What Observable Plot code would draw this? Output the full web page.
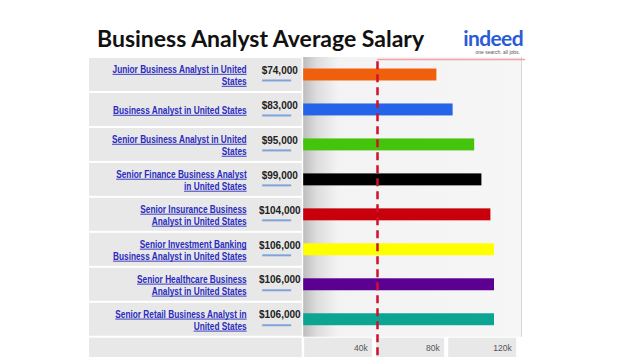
<!DOCTYPE html>
<html>
<head>
<meta charset="utf-8">
<script src="https://cdn.jsdelivr.net/npm/d3@7"></script>
<script src="https://cdn.jsdelivr.net/npm/@observablehq/plot@0.6"></script>
<style>
  html, body { margin: 0; padding: 0; background: #ffffff; }
  #wrap { position: relative; width: 640px; height: 360px; overflow: hidden; background: #ffffff; }
  #title { position: absolute; left: 97px; top: 24px; font-family: Lato, "Open Sans", sans-serif; font-weight: 700; font-size: 23px; color: #111; letter-spacing: 0px; white-space: nowrap; }
  #logo { position: absolute; left: 459px; top: 28px; width: 64px; text-align: right; }
  #logo .word { font-family: Lato, "Open Sans", sans-serif; font-weight: 700; font-size: 21px; color: #2a5bd7; letter-spacing: -0.6px; line-height: 20px; }
  #logo .tag { font-family: "Liberation Sans", Arial, sans-serif; font-size: 5px; color: #555; line-height: 6px; margin-top: 1px; margin-right: 3px; }
  #chart { position: absolute; left: 0; top: 55px; }
</style>
</head>
<body>
<div id="wrap">
  <div id="title">Business Analyst Average Salary</div>
  <div id="logo"><div class="word">indeed</div><div class="tag">one search. all jobs.</div></div>
  <div id="chart"></div>
</div>
<script>
// ---- data ----
const jobTitles = [
  "Junior Business Analyst in United\nStates",
  "Business Analyst in United States",
  "Senior Business Analyst in United\nStates",
  "Senior Finance Business Analyst\nin United States",
  "Senior Insurance Business\nAnalyst in United States",
  "Senior Investment Banking\nBusiness Analyst in United States",
  "Senior Healthcare Business\nAnalyst in United States",
  "Senior Retail Business Analyst in\nUnited States"
];
const salaries = [74000, 83000, 95000, 99000, 104000, 106000, 106000, 106000];
const salaryLabels = ["$74,000", "$83,000", "$95,000", "$99,000", "$104,000", "$106,000", "$106,000", "$106,000"];
const barColors = ["#f0600c", "#2563e8", "#45c40c", "#000000", "#c8000c", "#ffff00", "#5c0092", "#0ca594"];
const axisTicks = [40000, 80000, 120000];
const axisTickLabels = ["40k", "80k", "120k"];
const referenceSalary = 41000;

// ---- layout helpers (scale domain) ----
const xMin = -119000, xMax = 121000;
const nRows = jobTitles.length;
const axisRowSpan = 0.58;
const labelX = -31700, salaryX = -13300, salaryLineX1 = -22800, salaryLineX2 = -6700;
const linkColor = "#2b2bbf";

const rows = jobTitles.map((t, i) => ({title: t, salary: salaries[i], label: salaryLabels[i], color: barColors[i], row: i}));
const cells = axisTicks.map((t, i) => ({x1: i ? axisTicks[i - 1] : 0, x2: t, label: axisTickLabels[i]}));

const defs = () => {
  const g = d3.create("svg:defs");
  const lg = g.append("linearGradient").attr("id", "bg-grad").attr("x1", "0").attr("x2", "1").attr("y1", "0").attr("y2", "0");
  lg.append("stop").attr("offset", "0%").attr("stop-color", "#bdbdbd");
  lg.append("stop").attr("offset", "6%").attr("stop-color", "#dcdcdc");
  lg.append("stop").attr("offset", "16%").attr("stop-color", "#f3f3f3");
  lg.append("stop").attr("offset", "100%").attr("stop-color", "#f6f6f6");
  return g.node();
};

const chart = Plot.plot({
  width: 640,
  height: 305,
  marginTop: 2,
  marginBottom: 3,
  marginLeft: 89,
  marginRight: 119,
  style: {background: "transparent", overflow: "visible"},
  x: {domain: [xMin, xMax], axis: null},
  y: {domain: [0, nRows + axisRowSpan], reverse: true, axis: null},
  color: {type: "identity"},
  marks: [
    defs,
    Plot.rect(rows, {x1: xMin, x2: 0, y1: "row", y2: d => d.row + 1, fill: "#e8e8e8", insetTop: 1, insetBottom: 1, insetRight: 1.5}),
    Plot.rect([nRows], {x1: xMin, x2: 0, y1: d => d, y2: d => d + axisRowSpan, fill: "#e8e8e8", insetTop: 1, insetRight: 1.5}),
    Plot.rect([0], {x1: 0, x2: xMax, y1: 0, y2: nRows, fill: "url(#bg-grad)"}),
    Plot.rect(cells, {x1: "x1", x2: "x2", y1: nRows, y2: nRows + axisRowSpan, fill: "#e8e8e8", insetLeft: 1, insetRight: 3, insetTop: 1}),
    Plot.ruleX([xMax], {y1: 0, y2: nRows, stroke: "#d6d6d6", strokeWidth: 1}),
    Plot.rect(rows, {x1: 0, x2: "salary", y1: "row", y2: d => d.row + 1, fill: "color", insetTop: 11.5, insetBottom: 11.5}),
    Plot.ruleY([0], {x1: referenceSalary, x2: 123300, stroke: "#f2a0aa", strokeWidth: 1.5, dy: 2}),
    Plot.ruleX([referenceSalary], {y1: 0.12, y2: nRows + axisRowSpan, stroke: "#d0112d", strokeWidth: 2.5, strokeDasharray: "8,5"}),
    Plot.text(rows, {x: labelX, y: d => d.row + 0.5, text: "title", textAnchor: "end", fill: linkColor, fontWeight: "bold", fontSize: 10, lineHeight: 1.2, fontFamily: "'Liberation Sans', Arial, sans-serif"}),
    Plot.text(rows, {x: salaryX, y: d => d.row + 0.5, dy: -4.5, text: "label", fill: "#222", fontWeight: "bold", fontSize: 10, fontFamily: "'Liberation Sans', Arial, sans-serif"}),
    Plot.ruleY(rows, {y: d => d.row + 0.5, x1: salaryLineX1, x2: salaryLineX2, dy: 5.5, stroke: "#7fa3da", strokeWidth: 2}),
    Plot.text(cells, {x: "x2", y: nRows + axisRowSpan / 2, dx: -8, dy: 1, text: "label", textAnchor: "end", fill: "#555", fontSize: 8.5, fontFamily: "'Liberation Sans', Arial, sans-serif"})
  ]
});
document.getElementById("chart").appendChild(chart);

// narrow, underlined link-style job labels
const labelGroup = d3.select(chart).select(`g[fill="${linkColor}"]`);
labelGroup.selectAll("text").each(function() {
  const t = this;
  t.setAttribute("transform", (t.getAttribute("transform") || "") + " scale(0.83,1)");
  const tspans = Array.from(t.querySelectorAll("tspan"));
  const lines = tspans.length ? tspans : [t];
  const ug = d3.select(t.parentNode).append("g")
    .attr("transform", t.getAttribute("transform"))
    .attr("stroke", linkColor).attr("stroke-width", 1);
  for (const el of lines) {
    const len = el.getComputedTextLength();
    const p = el.getStartPositionOfChar(0);
    ug.append("line").attr("x1", p.x).attr("x2", p.x + len).attr("y1", p.y + 1.5).attr("y2", p.y + 1.5);
  }
});
</script>
</body>
</html>
